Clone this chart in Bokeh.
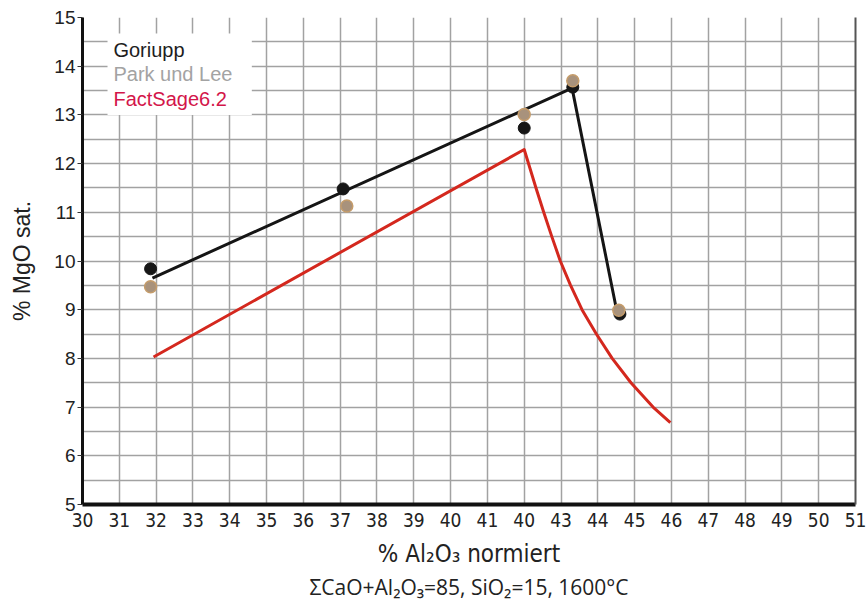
from bokeh.plotting import figure
from bokeh.models import (FixedTicker, Range1d, LinearAxis, Label, BoxAnnotation, Title)
from bokeh.embed import file_html
from bokeh.resources import INLINE

# ---- data ----
goriupp_x = [31.85, 37.08, 42.0, 43.32, 44.6]
goriupp_y = [9.84, 11.48, 12.73, 13.57, 8.91]

park_x = [31.85, 37.18, 42.0, 43.32, 44.57]
park_y = [9.47, 11.13, 13.01, 13.70, 8.99]

fit_x = [31.9, 43.3, 44.5]
fit_y = [9.65, 13.55, 9.03]

factsage_x = [31.93, 42.0, 42.32, 42.53, 42.75, 42.98, 43.26, 43.57, 43.96, 44.39, 44.9, 45.5, 45.97]
factsage_y = [8.03, 12.29, 11.5, 11.0, 10.5, 10.0, 9.5, 9.0, 8.5, 8.0, 7.5, 7.0, 6.68]

x_ticks = list(range(30, 52))
x_tick_labels = ["30", "31", "32", "33", "34", "35", "36", "37", "38", "39", "40",
                 "41", "40", "43", "44", "45", "46", "47", "48", "49", "50", "51"]
y_ticks = list(range(5, 16))
y_minor = [v + 0.5 for v in range(5, 15)]

legend_names = ["Goriupp", "Park und Lee", "FactSage6.2"]
legend_colors = ["#1e1e1e", "#a3a3a3", "#d3164a"]

RED = "#d4281e"
GRID = "#a2a2a2"
NARROW = "'Liberation Sans Narrow', 'Arial Narrow', 'DejaVu Sans Condensed', sans-serif"
ARIAL = "'Liberation Sans', Arial, sans-serif"

p = figure(width=867, height=600, output_backend="svg", toolbar_location=None,
           x_range=Range1d(30, 51), y_range=Range1d(5, 15),
           min_border_left=82, min_border_right=12, min_border_top=17, min_border_bottom=95)
p.outline_line_color = None
p.background_fill_color = "white"

# ticks / grid
p.xaxis.ticker = FixedTicker(ticks=x_ticks)
p.yaxis.ticker = FixedTicker(ticks=y_ticks, minor_ticks=y_minor)
p.xaxis.major_label_overrides = {t: l for t, l in zip(x_ticks, x_tick_labels)}
p.xgrid.ticker = FixedTicker(ticks=x_ticks)
p.ygrid.ticker = FixedTicker(ticks=y_ticks, minor_ticks=y_minor)
for g in (p.xgrid, p.ygrid):
    g.grid_line_color = GRID
    g.grid_line_width = 1.5
p.ygrid.minor_grid_line_color = GRID
p.ygrid.minor_grid_line_width = 1.5

# x axis
p.xaxis.axis_line_color = "#111"
p.xaxis.axis_line_width = 4
p.xaxis.major_tick_out = 0
p.xaxis.major_tick_in = 0
p.xaxis.minor_tick_out = 0
p.xaxis.minor_tick_in = 0
p.xaxis.major_label_text_font = NARROW
p.xaxis.major_label_text_font_size = "19px"
p.xaxis.major_label_text_color = "#222"
p.xaxis.major_label_standoff = 8
p.xaxis.axis_label = "% Al\u2082O\u2083 normiert"
p.xaxis.axis_label_text_font = NARROW
p.xaxis.axis_label_text_font_size = "24px"
p.xaxis.axis_label_text_font_style = "normal"
p.xaxis.axis_label_text_color = "#222"
p.xaxis.axis_label_standoff = 10

# y axis
p.yaxis.axis_line_color = "#111"
p.yaxis.axis_line_width = 3
p.yaxis.major_tick_out = 5
p.yaxis.major_tick_in = 0
p.yaxis.major_tick_line_color = "#333"
p.yaxis.minor_tick_out = 0
p.yaxis.minor_tick_in = 0
p.yaxis.major_label_text_font = ARIAL
p.yaxis.major_label_text_font_size = "19px"
p.yaxis.major_label_text_color = "#222"
p.yaxis.major_label_standoff = 2
p.yaxis.axis_label = "% MgO sat."
p.yaxis.axis_label_text_font = ARIAL
p.yaxis.axis_label_text_font_size = "23px"
p.yaxis.axis_label_text_font_style = "normal"
p.yaxis.axis_label_text_color = "#222"
p.yaxis.axis_label_standoff = 16

# right frame edge
right = LinearAxis(ticker=FixedTicker(ticks=[]), major_label_text_font_size="0px",
                   axis_line_color="#555", axis_line_width=2,
                   major_tick_out=0, major_tick_in=0, minor_tick_out=0, minor_tick_in=0)
p.add_layout(right, "right")

# caption
cap = Title(text="\u03a3CaO+Al\u2082O\u2083=85, SiO\u2082=15, 1600\u00b0C", align="center",
            text_font="'Open Sans', sans-serif", text_font_size="21px",
            text_font_style="normal", text_color="#222", standoff=0)
p.add_layout(cap, "below")

# data
p.line(factsage_x, factsage_y, line_color=RED, line_width=3, line_join="round")
p.line(fit_x, fit_y, line_color="#151515", line_width=3)
p.scatter(goriupp_x, goriupp_y, size=12, fill_color="#161616", line_color="#161616")
p.scatter(park_x, park_y, size=12, fill_color="#a8927c", line_color="#c59c6a", line_width=1.5)

# legend box
box = BoxAnnotation(left=30.68, right=34.6, top=14.67, bottom=13.0,
                    fill_color="white", fill_alpha=1.0, line_color=None, level="overlay")
p.add_layout(box)
legend_y = [14.34, 13.83, 13.32]
for name, col, yy in zip(legend_names, legend_colors, legend_y):
    p.add_layout(Label(x=30.84, y=yy, text=name, text_color=col, text_font=ARIAL,
                       text_font_size="20px", text_baseline="middle", level="overlay"))

open("out.html", "w").write(file_html(p, INLINE))
